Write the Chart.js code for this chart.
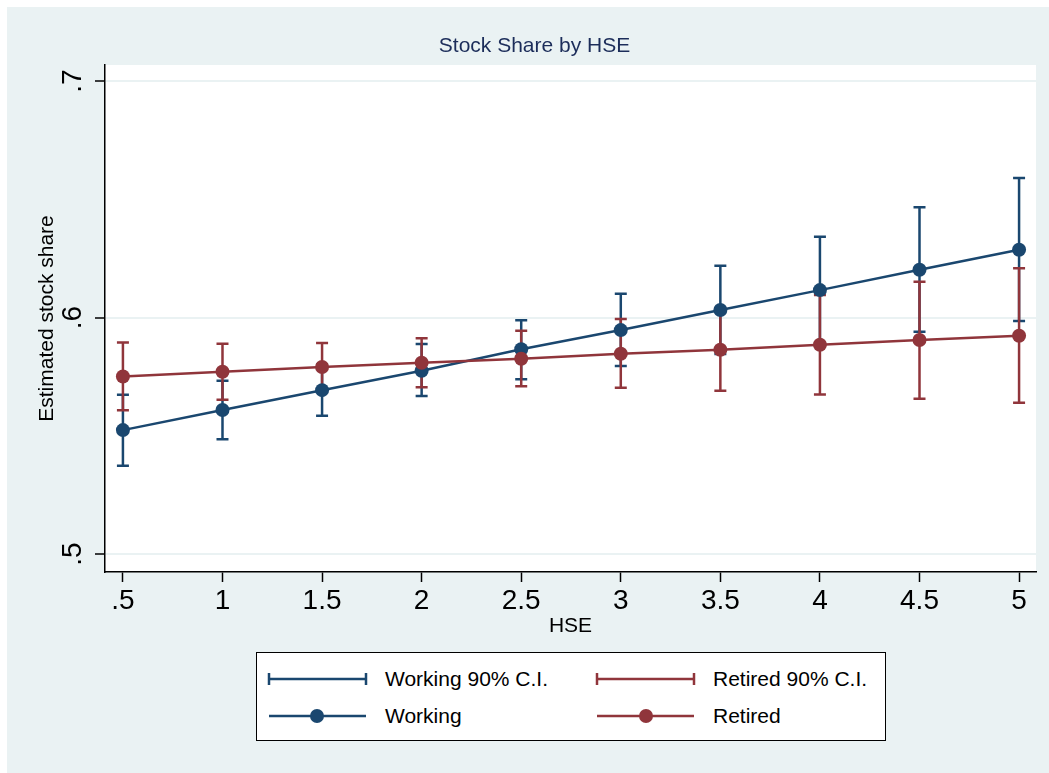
<!DOCTYPE html>
<html lang="en">

<head>
    <meta charset="UTF-8">
    <title>Stock Share by HSE</title>
    <script src="https://cdn.jsdelivr.net/npm/chart.js"></script>
    <style>
        html, body { margin: 0; background: #fff; overflow: hidden; font-family: "Liberation Sans", Arial, sans-serif; }
        #wrap { position: absolute; left: 7px; top: 7px; width: 1042px; height: 766px; background: #eaf2f3; overflow: hidden; }
        #myChart { display: block; }
        #legend { position: absolute; left: 249px; top: 645px; width: 628px; height: 87px; background: #fff; border: 1.5px solid #000; }
        #legend span { position: absolute; font-size: 21px; color: #000; line-height: 24px; }
        #legend svg { position: absolute; left: 0; top: 0; }
    </style>
</head>

<body>
    <div id="wrap">
        <canvas id="myChart" width="1042" height="766"></canvas>
        <div id="legend">
            <svg width="628" height="87">
                <!-- CI symbols -->
                <line x1="12" y1="26" x2="109" y2="26" stroke="#1a476f" stroke-width="2.5" />
                <line x1="12" y1="20" x2="12" y2="32" stroke="#1a476f" stroke-width="2.5" />
                <line x1="109" y1="20" x2="109" y2="32" stroke="#1a476f" stroke-width="2.5" />
                <line x1="340" y1="26" x2="437" y2="26" stroke="#90353b" stroke-width="2.5" />
                <line x1="340" y1="20" x2="340" y2="32" stroke="#90353b" stroke-width="2.5" />
                <line x1="437" y1="20" x2="437" y2="32" stroke="#90353b" stroke-width="2.5" />
                <!-- line + marker symbols -->
                <line x1="12" y1="63" x2="109" y2="63" stroke="#1a476f" stroke-width="2.5" />
                <circle cx="60" cy="63" r="7" fill="#1a476f" />
                <line x1="340" y1="63" x2="437" y2="63" stroke="#90353b" stroke-width="2.5" />
                <circle cx="389" cy="63" r="7" fill="#90353b" />
            </svg>
            <span style="left:128px;top:14px;">Working 90% C.I.</span>
            <span style="left:456px;top:14px;">Retired 90% C.I.</span>
            <span style="left:128px;top:51px;">Working</span>
            <span style="left:456px;top:51px;">Retired</span>
        </div>
    </div>

    <script>
        // data
        const hse = [0.5, 1, 1.5, 2, 2.5, 3, 3.5, 4, 4.5, 5];

        const working = [0.5524, 0.5609, 0.5693, 0.5775, 0.5866, 0.5947, 0.6032, 0.6116, 0.6202, 0.6287];
        const workingLo = [0.5373, 0.5485, 0.5585, 0.5668, 0.5739, 0.5795, 0.5846, 0.5892, 0.5940, 0.5985];
        const workingHi = [0.5674, 0.5733, 0.5802, 0.5888, 0.5989, 0.6101, 0.6219, 0.6342, 0.6466, 0.6590];

        const retired = [0.5751, 0.5771, 0.5791, 0.5809, 0.5826, 0.5847, 0.5864, 0.5885, 0.5905, 0.5923];
        const retiredLo = [0.5608, 0.5652, 0.5689, 0.5705, 0.5710, 0.5703, 0.5690, 0.5675, 0.5657, 0.5640];
        const retiredHi = [0.5895, 0.5889, 0.5892, 0.5912, 0.5944, 0.5994, 0.6036, 0.6095, 0.6151, 0.6208];

        const xTicks = [0.5, 1, 1.5, 2, 2.5, 3, 3.5, 4, 4.5, 5];
        const yTicks = [0.5, 0.6, 0.7];

        const BLUE = '#1a476f';
        const RED = '#90353b';
        const FONT = '"Liberation Sans", Arial, sans-serif';

        // stata style label: .5 instead of 0.5
        const fmt = (v) => String(Math.round(v * 10) / 10).replace(/^0\./, '.');

        const points = (ys) => hse.map((x, i) => ({ x: x, y: ys[i] }));

        const ciSets = [
            { lo: workingLo, hi: workingHi, color: BLUE },
            { lo: retiredLo, hi: retiredHi, color: RED },
        ];

        // white plot region + error bars (drawn under the lines)
        const stataPlugin = {
            id: 'stata',
            beforeDraw(chart) {
                const { ctx, chartArea: a } = chart;
                ctx.save();
                ctx.fillStyle = '#fff';
                ctx.fillRect(a.left, a.top, a.right - a.left, a.bottom - a.top);
                ctx.restore();
            },
            beforeDatasetsDraw(chart) {
                const { ctx } = chart;
                const sx = chart.scales.x, sy = chart.scales.y;
                ctx.save();
                ctx.lineWidth = 2.5;
                ciSets.forEach((ci) => {
                    ctx.strokeStyle = ci.color;
                    hse.forEach((x, i) => {
                        const px = sx.getPixelForValue(x);
                        const y1 = sy.getPixelForValue(ci.lo[i]);
                        const y2 = sy.getPixelForValue(ci.hi[i]);
                        ctx.beginPath();
                        ctx.moveTo(px, y1); ctx.lineTo(px, y2);
                        ctx.moveTo(px - 6, y1); ctx.lineTo(px + 6, y1);
                        ctx.moveTo(px - 6, y2); ctx.lineTo(px + 6, y2);
                        ctx.stroke();
                    });
                });
                ctx.restore();
            },
            afterDraw(chart) {
                // rotated y tick labels
                const { ctx } = chart;
                const sy = chart.scales.y;
                ctx.save();
                ctx.fillStyle = '#000';
                ctx.font = '28px ' + FONT;
                ctx.textAlign = 'center';
                ctx.textBaseline = 'middle';
                sy.ticks.forEach((t) => {
                    const py = sy.getPixelForValue(t.value);
                    ctx.save();
                    ctx.translate(66, py);
                    ctx.rotate(-Math.PI / 2);
                    ctx.fillText(fmt(t.value), 0, 0);
                    ctx.restore();
                });
                ctx.restore();
            }
        };

        const ctx = document.getElementById('myChart');

        new Chart(ctx, {
            type: 'line',
            data: {
                datasets: [
                    {
                        label: 'Working',
                        data: points(working),
                        borderColor: BLUE,
                        backgroundColor: BLUE,
                        borderWidth: 2.5,
                        pointRadius: 7,
                        pointBorderWidth: 0,
                        order: 2,
                    },
                    {
                        label: 'Retired',
                        data: points(retired),
                        borderColor: RED,
                        backgroundColor: RED,
                        borderWidth: 2.5,
                        pointRadius: 7,
                        pointBorderWidth: 0,
                        order: 1,
                    }
                ]
            },
            options: {
                responsive: false,
                animation: false,
                layout: { padding: { left: 26, right: 13, top: 0, bottom: 126 } },
                plugins: {
                    legend: { display: false },
                    tooltip: { enabled: false },
                    title: {
                        display: true,
                        text: 'Stock Share by HSE',
                        color: '#1c2d5a',
                        font: { family: FONT, size: 21, weight: 'normal', lineHeight: 1.2 },
                        padding: { top: 26.4, bottom: 6.4 },
                    },
                },
                scales: {
                    x: {
                        type: 'linear',
                        min: 0.41,
                        max: 5.085,
                        afterBuildTicks: (s) => { s.ticks = xTicks.map((v) => ({ value: v })); },
                        afterFit: (s) => { s.height = 75; },
                        border: { display: true, color: '#000', width: 1.5 },
                        grid: { drawOnChartArea: false, drawTicks: true, tickLength: 10, tickColor: '#000', tickWidth: 1.5 },
                        ticks: {
                            color: '#000',
                            font: { family: FONT, size: 28 },
                            padding: 2,
                            maxRotation: 0,
                            autoSkip: false,
                            callback: (v) => fmt(v),
                        },
                        title: {
                            display: true,
                            text: 'HSE',
                            color: '#000',
                            font: { family: FONT, size: 21, lineHeight: 1.2 },
                            padding: { top: 0, bottom: 8.4 },
                        },
                    },
                    y: {
                        type: 'linear',
                        min: 0.4924,
                        max: 0.7068,
                        afterBuildTicks: (s) => { s.ticks = yTicks.map((v) => ({ value: v })); },
                        afterFit: (s) => { s.width = 72; },
                        border: { display: true, color: '#000', width: 1.5 },
                        grid: { color: '#eaf2f3', lineWidth: 2, drawTicks: true, tickLength: 10, tickColor: '#000', tickWidth: 1.5 },
                        ticks: { display: false },
                        title: {
                            display: true,
                            text: 'Estimated stock share',
                            color: '#000',
                            font: { family: FONT, size: 21, lineHeight: 1.2 },
                            padding: { top: 1.4, bottom: 0 },
                        },
                    },
                },
            },
            plugins: [stataPlugin],
        });
    </script>
</body>

</html>
